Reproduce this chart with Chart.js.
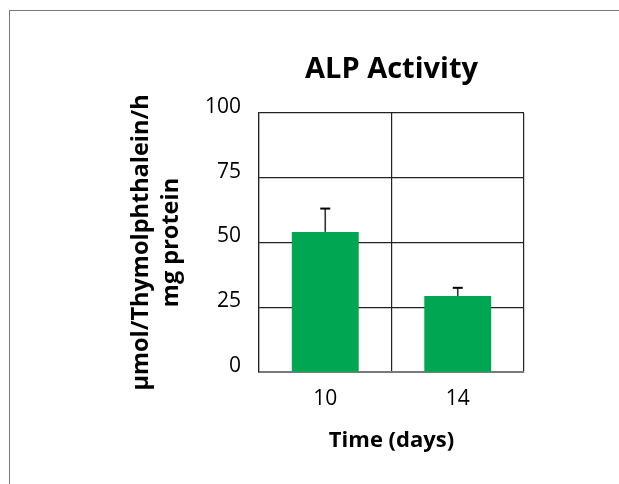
<!DOCTYPE html>
<html>
<head>
<meta charset="utf-8">
<script src="https://cdn.jsdelivr.net/npm/chart.js@4"></script>
<style>
  html, body { margin: 0; padding: 0; background: #fff; }
  #wrap { position: relative; width: 619px; height: 484px; overflow: hidden; }
  #frame { position: absolute; left: 9px; top: 10px; width: 700px; height: 600px;
           border-left: 1.5px solid #7a7a7a; border-top: 1.5px solid #7a7a7a; pointer-events: none; }
  canvas { position: absolute; left: 0; top: 0; }
</style>
</head>
<body>
<div id="wrap">
  <canvas id="c" width="619" height="484"></canvas>
  <div id="frame"></div>
</div>
<script>
const categories = ['10', '14'];
const alpValues = [54.1, 29.3];
const alpErrors = [9.0, 3.2];
const yTicks = [0, 25, 50, 75, 100];

const FONT = "'Open Sans', 'Noto Sans', sans-serif";

const errorBars = {
  id: 'errorBars',
  afterDatasetsDraw(chart) {
    const ctx = chart.ctx;
    const meta = chart.getDatasetMeta(0);
    const y = chart.scales.y;
    ctx.save();
    meta.data.forEach((bar, i) => {
      const x = bar.x;
      const y0 = y.getPixelForValue(alpValues[i]);
      const y1 = y.getPixelForValue(alpValues[i] + alpErrors[i]);
      ctx.strokeStyle = '#333';
      ctx.lineWidth = 1.6;
      ctx.beginPath();
      ctx.moveTo(x, y0);
      ctx.lineTo(x, y1);
      ctx.stroke();
      ctx.strokeStyle = '#000';
      ctx.lineWidth = 2;
      ctx.beginPath();
      ctx.moveTo(x - 5, y1);
      ctx.lineTo(x + 5, y1);
      ctx.stroke();
    });
    ctx.restore();
  }
};

new Chart(document.getElementById('c'), {
  type: 'bar',
  data: {
    labels: categories,
    datasets: [{
      data: alpValues,
      backgroundColor: '#00a651',
      borderWidth: 0,
      barPercentage: 0.505,
      categoryPercentage: 1.0
    }]
  },
  plugins: [errorBars],
  options: {
    responsive: false,
    animation: false,
    devicePixelRatio: 1,
    layout: { padding: { left: 0, right: 95, top: 0, bottom: 0 } },
    plugins: {
      legend: { display: false },
      tooltip: { enabled: false },
      title: {
        display: true,
        text: 'ALP Activity',
        fullSize: false,
        color: '#000',
        font: { family: FONT, size: 29, weight: 'bold', lineHeight: 1.2 },
        padding: { top: 52.6, bottom: 25.6 }
      }
    },
    scales: {
      x: {
        afterFit(scale) { scale.height = 112; },
        grid: {
          display: true,
          offset: true,
          drawTicks: false,
          lineWidth: 1.2,
          color: (ctx) => ctx.index === 2 ? '#7a7a7a' : '#222'
        },
        border: { display: true, color: '#7a7a7a', width: 2 },
        ticks: {
          color: '#000',
          padding: 14,
          font: { family: FONT, size: 21 }
        },
        title: {
          display: true,
          text: 'Time (days)',
          color: '#000',
          font: { family: FONT, size: 22, weight: 'bold', lineHeight: 1.2 },
          padding: { top: 0, bottom: 30 }
        }
      },
      y: {
        min: 0,
        max: 100,
        afterFit(scale) { scale.width = 259; },
        afterBuildTicks(scale) { scale.ticks = yTicks.map(v => ({ value: v })); },
        grid: {
          drawTicks: false,
          lineWidth: 1.2,
          color: '#222'
        },
        border: { display: true, color: '#222', width: 1.2 },
        ticks: {
          color: '#000',
          padding: 18,
          labelOffset: -6,
          font: { family: FONT, size: 21 }
        },
        title: {
          display: true,
          text: ['\u00b5mol/Thymolphthalein/h', 'mg protein'],
          color: '#000',
          font: { family: FONT, size: 23.5, weight: 'bold', lineHeight: 1.28 },
          padding: { top: 126, bottom: 0 }
        }
      }
    }
  }
});
</script>
</body>
</html>
